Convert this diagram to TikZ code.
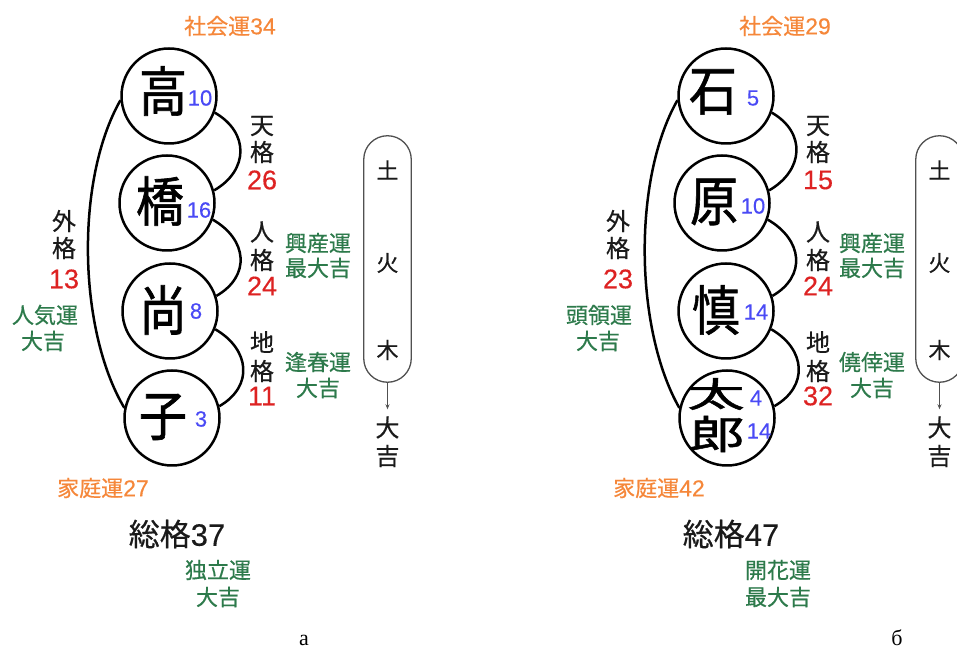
\documentclass[tikz,border=0pt]{standalone}
\usepackage{fontspec}
\usetikzlibrary{arrows.meta}
\setmainfont{Liberation Serif}
\newfontfamily\jp{Noto Sans CJK JP}[FakeBold=0.5]
\newfontfamily\jpbig{Noto Sans CJK JP}[FakeBold=1.2]
\newfontfamily\lat{Liberation Sans}[FakeBold=0.3]
\definecolor{fOrange}{HTML}{F5873A}
\definecolor{fRed}{HTML}{DD2222}
\definecolor{fGreen}{HTML}{2D7A4B}
\definecolor{fBlue}{HTML}{4A4AF5}
\definecolor{fInk}{HTML}{1A1A1A}
\definecolor{fGray}{HTML}{505050}
\tikzset{
  namecirc/.style={circle, draw=black, line width=2.5pt, minimum size=95pt, inner sep=0pt},
  bigkanji/.style={font=\jpbig\fontsize{48}{48}\selectfont, inner sep=0pt},
  strokes/.style={font=\lat\fontsize{22}{22}\selectfont, text=fBlue, inner sep=0pt},
  kaku/.style={font=\jp\fontsize{24}{24}\selectfont, text=fInk, inner sep=0pt},
  kakunum/.style={font=\lat\fontsize{27}{27}\selectfont, text=fRed, inner sep=0pt},
  fortune/.style={font=\jp\fontsize{22}{22}\selectfont, text=fGreen, inner sep=0pt},
  unrec/.style={font=\jp\fontsize{22}{22}\selectfont, text=fOrange, inner sep=0pt},
  total/.style={font=\jp\fontsize{31}{31}\selectfont, text=fInk, inner sep=0pt},
  linkarc/.style={line width=2.5pt},
  pill/.style={draw=fGray, line width=1.3pt, rounded corners=23.7pt, minimum width=47.5pt, minimum height=246.5pt, inner sep=0pt},
  elem/.style={font=\jp\fontsize{22}{22}\selectfont, text=fInk, inner sep=0pt},
  resultch/.style={font=\jp\fontsize{24}{24}\selectfont, text=fInk, inner sep=0pt},
  flow/.style={draw=fGray, line width=1pt, shorten >=7pt, -{Stealth[length=5pt,width=4pt]}},
  caption/.style={font=\fontsize{22}{22}\selectfont, inner sep=0pt}
}
\newcommand{\tallk}[1]{\scalebox{1}[1.12]{#1}}
\begin{document}
\begin{tikzpicture}[x=1pt,y=1pt]
\useasboundingbox (0,0) rectangle (957,650);
\clip (0,0) rectangle (957,650);

% ================= panel a =================
\node[namecirc] (a1) at (169,554) {};
\node[namecirc] (a2) at (167,447) {};
\node[namecirc] (a3) at (170,339) {};
\node[namecirc] (a4) at (172,232) {};
\node[bigkanji] (ka1) at (163,559) {\tallk{高}};
\node[bigkanji] (ka2) at (160,449) {\tallk{橋}};
\node[bigkanji] (ka3) at (163,340) {\tallk{尚}};
\node[bigkanji] (ka4) at (163,233) {\tallk{子}};
\node[strokes] (sa1) at (200,552) {10};
\node[strokes] (sa2) at (199,440) {16};
\node[strokes] (sa3) at (196,339) {8};
\node[strokes] (sa4) at (201,231) {3};

\draw[linkarc] (a1.-20) .. controls +(-30:40) and +(30:40) .. (a2.15);
\draw[linkarc] (a2.-20) .. controls +(-30:40) and +(30:40) .. (a3.18);
\draw[linkarc] (a3.-22) .. controls +(-30:40) and +(30:40) .. (a4.14);
\draw[linkarc] (a1.185) .. controls (75,470) and (78,320) .. (a4.168);

\node[unrec] (soa) at (230,624) {社会運{\lat\fontsize{23}{23}\selectfont 34}};
\node[kaku] (tga1) at (262,524) {天};
\node[kaku] (tga2) at (262,498) {格};
\node[kakunum] (tga3) at (262,470) {26};
\node[kaku] (jga1) at (262,418) {人};
\node[kaku] (jga2) at (262,390) {格};
\node[kakunum] (jga3) at (262,364) {24};
\node[kaku] (cga1) at (262,308) {地};
\node[kaku] (cga2) at (262,279) {格};
\node[kakunum] (cga3) at (262,254) {11};
\node[kaku] (gga1) at (64,429) {外};
\node[kaku] (gga2) at (64,402) {格};
\node[kakunum] (gga3) at (64,371) {13};
\node[fortune] (fga1) at (45,335) {人気運};
\node[fortune] (fga2) at (43,309) {大吉};
\node[fortune] (fja1) at (318,407) {興産運};
\node[fortune] (fja2) at (318,382) {最大吉};
\node[fortune] (fca1) at (318,288) {逢春運};
\node[fortune] (fca2) at (318,262) {大吉};
\node[unrec] (kta) at (103,162) {家庭運{\lat\fontsize{23}{23}\selectfont 27}};
\node[total] (toa) at (177,116) {総格{\lat 37}};
\node[fortune] (fta1) at (218,80) {独立運};
\node[fortune] (fta2) at (218,53) {大吉};
\node[caption] (capa) at (304,10) {а};

\node[pill] (pa) at (387.5,391) {};
\node[elem] (ea1) at (387.5,480) {土};
\node[elem] (ea2) at (387.5,387) {火};
\node[elem] (ea3) at (387.5,300) {木};
\node[resultch] (ra1) at (387.5,222.5) {大};
\node[resultch] (ra2) at (387.5,194) {吉};
\draw[flow] (pa.south) -- (ra1.north);

% ================= panel b =================
\node[namecirc] (b1) at (726,554) {};
\node[namecirc] (b2) at (722,447) {};
\node[namecirc] (b3) at (726,339) {};
\node[namecirc] (b4) at (727,232) {};
\node[bigkanji] (kb1) at (713,558) {\tallk{石}};
\node[bigkanji] (kb2) at (714,448) {\tallk{原}};
\node[bigkanji] (kb3) at (716,340) {\tallk{慎}};
\node[bigkanji] (kb4a) at (716,256) {\scalebox{1.2}[0.72]{太}};
\node[bigkanji] (kb4b) at (717,216) {\scalebox{1.15}[0.82]{郎}};
\node[strokes] (sb1) at (753,552) {5};
\node[strokes] (sb2) at (753,444) {10};
\node[strokes] (sb3) at (756,338) {14};
\node[strokes] (sb4a) at (756,252) {4};
\node[strokes] (sb4b) at (759,219) {14};

\draw[linkarc] (b1.-20) .. controls +(-30:40) and +(30:40) .. (b2.15);
\draw[linkarc] (b2.-20) .. controls +(-30:40) and +(30:40) .. (b3.18);
\draw[linkarc] (b3.-22) .. controls +(-30:40) and +(30:40) .. (b4.14);
\draw[linkarc] (b1.185) .. controls (632,470) and (635,320) .. (b4.168);

\node[unrec] (sob) at (785,624) {社会運{\lat\fontsize{23}{23}\selectfont 29}};
\node[kaku] (tgb1) at (818,524) {天};
\node[kaku] (tgb2) at (818,498) {格};
\node[kakunum] (tgb3) at (818,470) {15};
\node[kaku] (jgb1) at (818,418) {人};
\node[kaku] (jgb2) at (818,390) {格};
\node[kakunum] (jgb3) at (818,364) {24};
\node[kaku] (cgb1) at (818,308) {地};
\node[kaku] (cgb2) at (818,279) {格};
\node[kakunum] (cgb3) at (818,254) {32};
\node[kaku] (ggb1) at (618,429) {外};
\node[kaku] (ggb2) at (618,402) {格};
\node[kakunum] (ggb3) at (618,371) {23};
\node[fortune] (fgb1) at (599,335) {頭領運};
\node[fortune] (fgb2) at (598,309) {大吉};
\node[fortune] (fjb1) at (872,407) {興産運};
\node[fortune] (fjb2) at (872,382) {最大吉};
\node[fortune] (fcb1) at (872,288) {僥倖運};
\node[fortune] (fcb2) at (872,262) {大吉};
\node[unrec] (ktb) at (659,162) {家庭運{\lat\fontsize{23}{23}\selectfont 42}};
\node[total] (tob) at (731,116) {総格{\lat 47}};
\node[fortune] (ftb1) at (778,80) {開花運};
\node[fortune] (ftb2) at (778,53) {最大吉};
\node[caption] (capb) at (897,12) {б};

\node[pill] (pb) at (939.5,391) {};
\node[elem] (eb1) at (939.5,480) {土};
\node[elem] (eb2) at (939.5,387) {火};
\node[elem] (eb3) at (939.5,300) {木};
\node[resultch] (rb1) at (939.5,222.5) {大};
\node[resultch] (rb2) at (939.5,194) {吉};
\draw[flow] (pb.south) -- (rb1.north);
\end{tikzpicture}
\end{document}
